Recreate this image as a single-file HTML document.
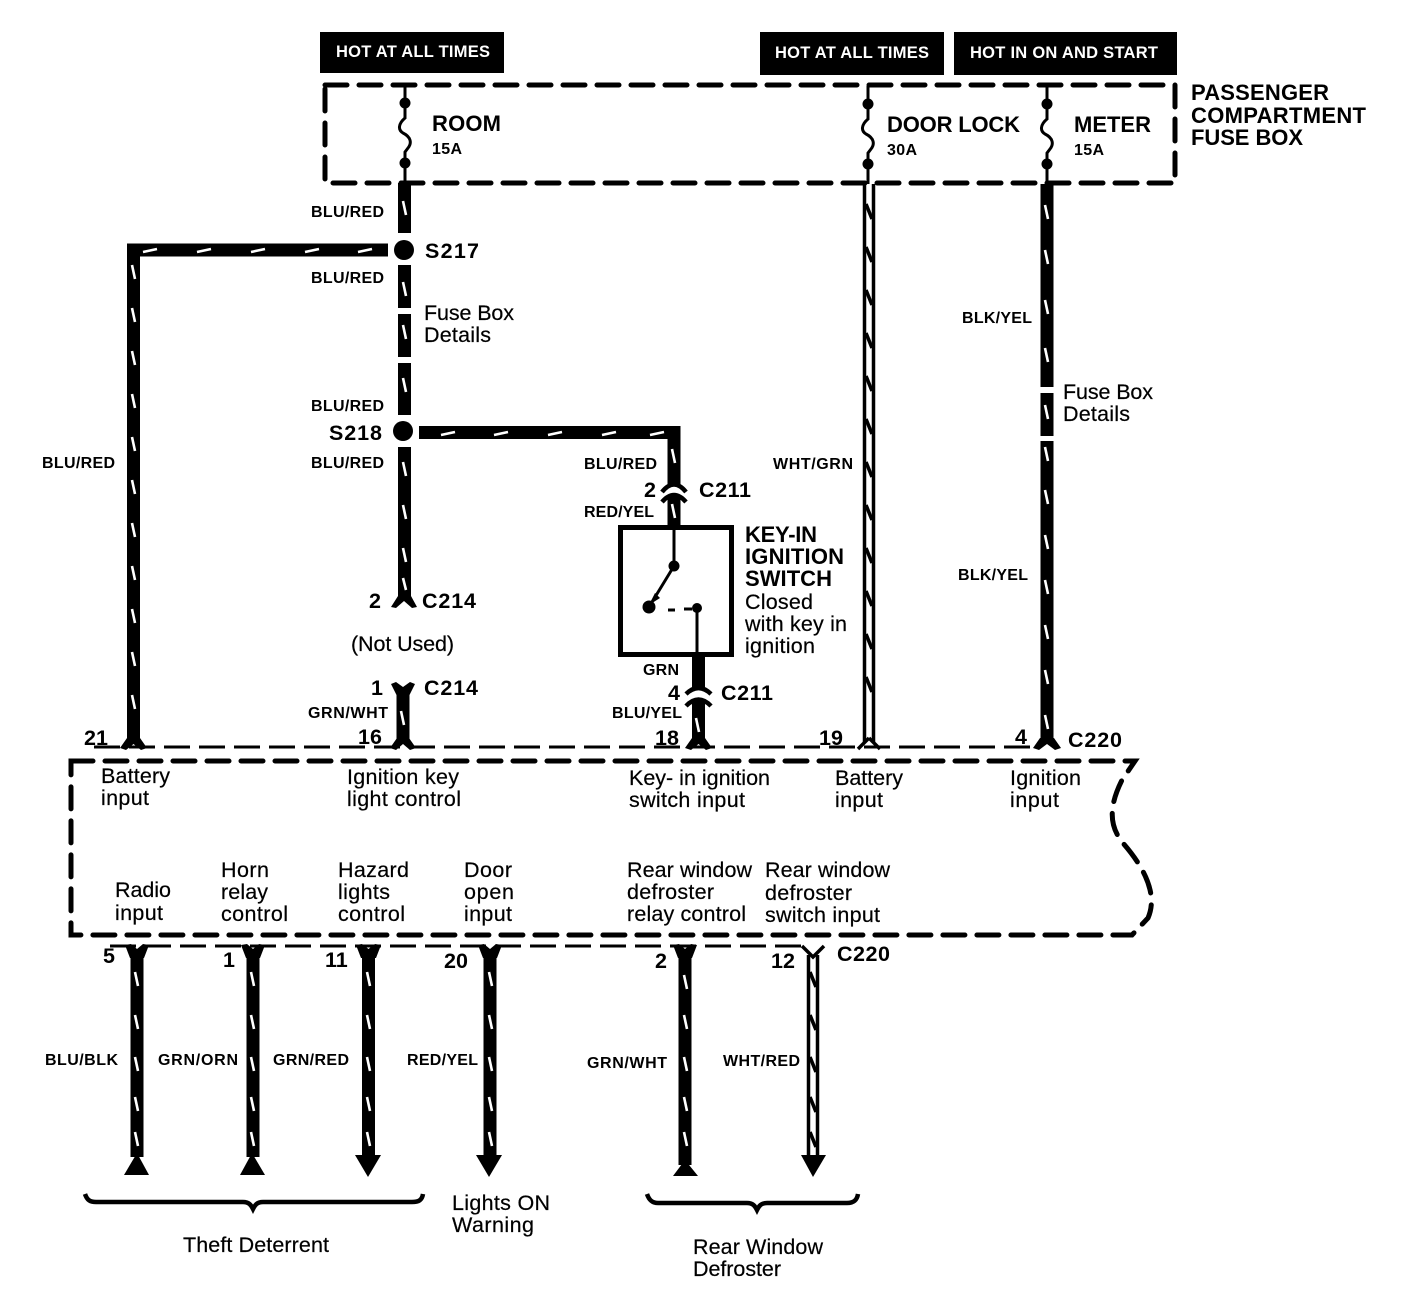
<!DOCTYPE html>
<html><head><meta charset="utf-8"><style>
html,body{margin:0;padding:0;background:#fff}
svg{display:block}
text{font-family:"Liberation Sans",sans-serif;fill:#000}
.w{font-size:16px;font-weight:bold}
.h{font-size:16.5px;font-weight:bold;fill:#fff}
.b{font-size:22px;font-weight:bold}
.p{font-size:21.5px;font-weight:bold}
.a{font-size:16px;font-weight:bold}
.r{font-size:21.5px;stroke:#000;stroke-width:.2}
.wire{stroke:#000;stroke-width:13;fill:none}
.tick{stroke:#fff;stroke-width:2.6;fill:none}
.zig{stroke:#000;stroke-width:3.6;fill:none}
.dash{stroke:#000;stroke-width:5;fill:none;stroke-dasharray:22 12;stroke-linecap:round}
.thin{stroke:#000;stroke-width:3;fill:none;stroke-dasharray:26 9}
.l{stroke:#000;stroke-width:3;fill:none}
.bar{stroke:#000;stroke-width:3.5;fill:none}
.arc{stroke:#000;stroke-width:4.5;fill:none}
</style></head><body>
<svg width="1408" height="1308" viewBox="0 0 1408 1308" xmlns="http://www.w3.org/2000/svg">
<rect width="1408" height="1308" fill="#fff"/>

<!-- header boxes -->
<rect x="320" y="32" width="184" height="41"/>
<rect x="760" y="32" width="184" height="43"/>
<rect x="954" y="32" width="223" height="43"/>
<text class="h" x="336" y="57" textLength="154">HOT AT ALL TIMES</text>
<text class="h" x="775" y="58" textLength="154">HOT AT ALL TIMES</text>
<text class="h" x="970" y="58" textLength="188">HOT IN ON AND START</text>

<!-- fuse box -->
<path class="dash" d="M325 85H1175V183H325Z"/>
<g fill="#000"><circle cx="405" cy="103" r="5.5"/><circle cx="405" cy="163" r="5.5"/><circle cx="868" cy="104" r="5.5"/><circle cx="868" cy="164" r="5.5"/><circle cx="1047" cy="104" r="5.5"/><circle cx="1047" cy="164" r="5.5"/></g>
<path class="l" d="M405 85V118C398 124 398 130 403 133C411 137 412 143 408 148L405 152V183"/>
<path class="l" d="M868 86V119C861 125 861 131 866 134C874 138 875 144 871 149L868 153V184"/>
<path class="l" d="M1047 86V119C1040 125 1040 131 1045 134C1053 138 1054 144 1050 149L1047 153V184"/>
<text class="b" x="432" y="131" textLength="69">ROOM</text>
<text class="a" x="432" y="154" textLength="30">15A</text>
<text class="b" x="887" y="132" textLength="133">DOOR LOCK</text>
<text class="a" x="887" y="155" textLength="30">30A</text>
<text class="b" x="1074" y="132" textLength="77">METER</text>
<text class="a" x="1074" y="155" textLength="30">15A</text>
<text class="b" x="1191" y="100" textLength="138">PASSENGER</text>
<text class="b" x="1191" y="123" textLength="175">COMPARTMENT</text>
<text class="b" x="1191" y="145" textLength="112">FUSE BOX</text>

<!-- ROOM wires -->
<path class="wire" d="M404.500 183V233M404.500 265V308M404.500 314V357M404.500 363V415M404.500 447V600"/>
<path class="wire" d="M388 250H133.500V742"/>
<path class="wire" d="M419 432.500H674V486M674 495V526"/>
<circle cx="404" cy="250" r="10"/><circle cx="403" cy="431" r="10"/>
<path class="tick" d="M403 201l3 14M403 282l3 14M403 325l3 14M403 378l3 14M403 462l3 14M403 505l3 14M403 548l3 14M403 578l3 12"/>
<path class="tick" d="M132 265l3 14M132 308l3 14M132 351l3 14M132 394l3 14M132 437l3 14M132 480l3 14M132 523l3 14M132 566l3 14M132 609l3 14M132 652l3 14M132 695l3 14"/>
<path class="tick" d="M143 252l14-3M197 252l14-3M251 252l14-3M305 252l14-3M358 252l14-3"/>
<path class="tick" d="M441 435l14-3M494 435l14-3M548 435l14-3M602 435l14-3M650 435l14-3"/>
<path class="tick" d="M672 449l3 14M672 504l3 14"/>
<path d="M398 596L391 607L396 608L404 601L412 608L417 607L411 596Z"/>

<!-- C211 top -->
<path class="arc" d="M662 492Q674 477 686 492"/>
<path class="arc" d="M662 502Q674 488 686 502"/>

<!-- switch -->
<rect x="620.500" y="527.500" width="111" height="127" fill="none" stroke="#000" stroke-width="5"/>
<path class="l" d="M674 527V566L649 607"/>
<path class="l" d="M668 610H675M684 609H692"/>
<path class="l" d="M697 608V655"/>
<circle cx="674" cy="566" r="5.500"/><circle cx="649" cy="607" r="6.500"/><circle cx="697" cy="608" r="5"/>
<path d="M649 605L655 593L660 598Z"/>
<!-- C211 bottom -->
<path class="wire" d="M698.500 655V688M698.500 700V742"/>
<path class="arc" d="M686 694Q698.500 682 711 694"/>
<path class="arc" d="M686 706Q698.500 693 711 706"/>
<path class="tick" d="M696 718l3 14"/>
<path d="M692 738L685 748L691 750L698.500 744L706 750L712 748L705 738Z"/>

<!-- C214 lower -->
<path class="wire" d="M403 692V742"/>
<path d="M391 684L396 682L403 687L410 682L415 684L409 696H397Z"/>
<path class="tick" d="M401 711l3 14"/>
<path d="M397 738L390 748L396 750L403 744L410 750L416 748L409 738Z"/>
<path d="M127 738L120 748L126 750L133.500 744L141 750L147 748L140 738Z"/>

<!-- door lock wire -->
<path class="bar" d="M864.500 184V742M873.500 184V742"/>
<path class="zig" d="M866 204L872 219M866 247L872 262M866 290L872 305M866 333L872 348M866 376L872 391M866 419L872 434M866 462L872 477M866 505L872 520M866 548L872 563M866 591L872 606M866 634L872 649M866 677L872 692"/>
<path class="bar" d="M869 738L858 749M869 738L880 749" />

<!-- meter wire -->
<path class="wire" d="M1047 184V387M1047 393V436M1047 441V742"/>
<path class="tick" d="M1045 205l3 14M1045 250l3 14M1045 300l3 14M1045 348l3 14M1045 405l3 14M1045 447l3 14M1045 490l3 14M1045 535l3 14M1045 580l3 14M1045 625l3 14M1045 670l3 14M1045 715l3 14"/>
<path d="M1040 738L1033 748L1039 750L1047 744L1055 750L1061 748L1054 738Z"/>

<!-- connector lines -->
<path class="thin" d="M94 747H1040"/>
<path class="thin" d="M110 946H810"/>

<!-- module -->
<path class="dash" d="M71 761H1135L1122 780C1108 808 1110 826 1122 842C1145 868 1158 895 1148 918L1132 935H71Z"/>

<!-- bottom wires -->
<path class="wire" d="M137 955V1157M253 955V1157M368.500 955V1157M490 955V1157M685 955V1165"/>
<path class="tick" d="M135 972l3 14M135 1015l3 14M135 1057l3 14M135 1097l3 14M135 1132l3 14"/>
<path class="tick" d="M251 972l3 14M251 1015l3 14M251 1057l3 14M251 1097l3 14M251 1132l3 14"/>
<path class="tick" d="M367 972l3 14M367 1015l3 14M367 1057l3 14M367 1097l3 14M367 1132l3 14"/>
<path class="tick" d="M489 972l3 14M489 1015l3 14M489 1057l3 14M489 1097l3 14M489 1132l3 14"/>
<path class="tick" d="M684 975l3 14M684 1015l3 14M684 1057l3 14M684 1097l3 14M684 1132l3 14"/>
<path d="M125 945L131 944L137 949L143 944L149 945L144 958H130Z"/>
<path d="M241 945L247 944L253 949L259 944L265 945L260 958H246Z"/>
<path d="M356 945L362 944L368.500 949L375 944L381 945L376 958H361Z"/>
<path d="M478 945L484 944L490 949L496 944L502 945L497 958H483Z"/>
<path d="M673 945L679 944L685 949L691 944L697 945L692 958H678Z"/>
<path class="bar" d="M802 946L813 957L824 946"/>
<path d="M124 1175L137 1153L149 1175Z"/>
<path d="M240 1175L252 1153L265 1175Z"/>
<path d="M355 1155H381L368 1177Z"/>
<path d="M476 1155H502L489 1177Z"/>
<path d="M673 1176L685 1160L698 1176Z"/>
<path d="M801 1155H826L813 1177Z"/>
<path class="bar" d="M808.500 955V1156M817.500 955V1156"/>
<path class="zig" d="M810 972L816 987M810 1015L816 1030M810 1057L816 1072M810 1097L816 1112M810 1132L816 1147"/>

<!-- braces -->
<path d="M85 1194C87 1200 90 1202 96 1202H243C249 1202 251 1205 253 1209C255 1205 257 1202 263 1202H412C419 1202 422 1200 423 1194" fill="none" stroke="#000" stroke-width="4.500"/>
<path d="M647 1194C649 1200 652 1203 658 1203H747C753 1203 755 1206 757 1210C759 1206 761 1203 767 1203H847C854 1203 857 1200 858 1194" fill="none" stroke="#000" stroke-width="4.500"/>

<!-- wire labels -->
<text class="w" x="311" y="217" textLength="73">BLU/RED</text>
<text class="w" x="311" y="283" textLength="73">BLU/RED</text>
<text class="w" x="311" y="411" textLength="73">BLU/RED</text>
<text class="w" x="311" y="468" textLength="73">BLU/RED</text>
<text class="w" x="42" y="468" textLength="73">BLU/RED</text>
<text class="w" x="584" y="469" textLength="73">BLU/RED</text>
<text class="w" x="584" y="517" textLength="70">RED/YEL</text>
<text class="w" x="643" y="675" textLength="36">GRN</text>
<text class="w" x="612" y="718" textLength="70">BLU/YEL</text>
<text class="w" x="773" y="469" textLength="80">WHT/GRN</text>
<text class="w" x="962" y="323" textLength="70">BLK/YEL</text>
<text class="w" x="958" y="580" textLength="70">BLK/YEL</text>
<text class="w" x="308" y="718" textLength="80">GRN/WHT</text>
<text class="w" x="45" y="1065" textLength="73">BLU/BLK</text>
<text class="w" x="158" y="1065" textLength="80">GRN/ORN</text>
<text class="w" x="273" y="1065" textLength="76">GRN/RED</text>
<text class="w" x="407" y="1065" textLength="71">RED/YEL</text>
<text class="w" x="587" y="1068" textLength="80">GRN/WHT</text>
<text class="w" x="723" y="1066" textLength="77">WHT/RED</text>

<!-- splice / connector labels -->
<text class="p" x="425" y="258" textLength="54">S217</text>
<text class="p" x="329" y="440" textLength="53">S218</text>
<text class="p" x="644" y="497">2</text>
<text class="p" x="699" y="497" textLength="52">C211</text>
<text class="p" x="668" y="700">4</text>
<text class="p" x="721" y="700" textLength="52">C211</text>
<text class="p" x="369" y="608">2</text>
<text class="p" x="422" y="608" textLength="54">C214</text>
<text class="p" x="371" y="695">1</text>
<text class="p" x="424" y="695" textLength="54">C214</text>
<text class="p" x="84" y="745">21</text>
<text class="p" x="358" y="744">16</text>
<text class="p" x="655" y="745">18</text>
<text class="p" x="819" y="745">19</text>
<text class="p" x="1015" y="744">4</text>
<text class="p" x="1068" y="747" textLength="54">C220</text>
<text class="p" x="103" y="963">5</text>
<text class="p" x="223" y="967">1</text>
<text class="p" x="325" y="967">11</text>
<text class="p" x="444" y="968">20</text>
<text class="p" x="655" y="968">2</text>
<text class="p" x="771" y="968">12</text>
<text class="p" x="837" y="961" textLength="53">C220</text>

<!-- notes -->
<text class="r" x="424" y="320" textLength="90">Fuse Box</text>
<text class="r" x="424" y="342" textLength="67">Details</text>
<text class="r" x="1063" y="399" textLength="90">Fuse Box</text>
<text class="r" x="1063" y="421" textLength="67">Details</text>
<text class="r" x="351" y="651" textLength="103">(Not Used)</text>
<text class="b" x="745" y="542" textLength="72">KEY-IN</text>
<text class="b" x="745" y="564" textLength="99">IGNITION</text>
<text class="b" x="745" y="586" textLength="87">SWITCH</text>
<text class="r" x="745" y="609" textLength="68">Closed</text>
<text class="r" x="745" y="631" textLength="102">with key in</text>
<text class="r" x="745" y="653" textLength="70">ignition</text>

<text class="r" x="101" y="783" textLength="69">Battery</text>
<text class="r" x="101" y="805" textLength="48">input</text>
<text class="r" x="347" y="784" textLength="112">Ignition key</text>
<text class="r" x="347" y="806" textLength="114">light control</text>
<text class="r" x="629" y="785" textLength="141">Key- in ignition</text>
<text class="r" x="629" y="807" textLength="116">switch input</text>
<text class="r" x="835" y="785" textLength="68">Battery</text>
<text class="r" x="835" y="807" textLength="48">input</text>
<text class="r" x="1010" y="785" textLength="71">Ignition</text>
<text class="r" x="1010" y="807" textLength="49">input</text>

<text class="r" x="115" y="897" textLength="56">Radio</text>
<text class="r" x="115" y="920" textLength="48">input</text>
<text class="r" x="221" y="877" textLength="48">Horn</text>
<text class="r" x="221" y="899" textLength="47">relay</text>
<text class="r" x="221" y="921" textLength="67">control</text>
<text class="r" x="338" y="877" textLength="71">Hazard</text>
<text class="r" x="338" y="899" textLength="52">lights</text>
<text class="r" x="338" y="921" textLength="67">control</text>
<text class="r" x="464" y="877" textLength="48">Door</text>
<text class="r" x="464" y="899" textLength="50">open</text>
<text class="r" x="464" y="921" textLength="48">input</text>
<text class="r" x="627" y="877" textLength="125">Rear window</text>
<text class="r" x="627" y="899" textLength="87">defroster</text>
<text class="r" x="627" y="921" textLength="119">relay control</text>
<text class="r" x="765" y="877" textLength="125">Rear window</text>
<text class="r" x="765" y="900" textLength="87">defroster</text>
<text class="r" x="765" y="922" textLength="115">switch input</text>

<text class="r" x="452" y="1210" textLength="98">Lights ON</text>
<text class="r" x="452" y="1232" textLength="82">Warning</text>
<text class="r" x="183" y="1252" textLength="146">Theft Deterrent</text>
<text class="r" x="693" y="1254" textLength="130">Rear Window</text>
<text class="r" x="693" y="1276" textLength="88">Defroster</text>
</svg>
</body></html>
